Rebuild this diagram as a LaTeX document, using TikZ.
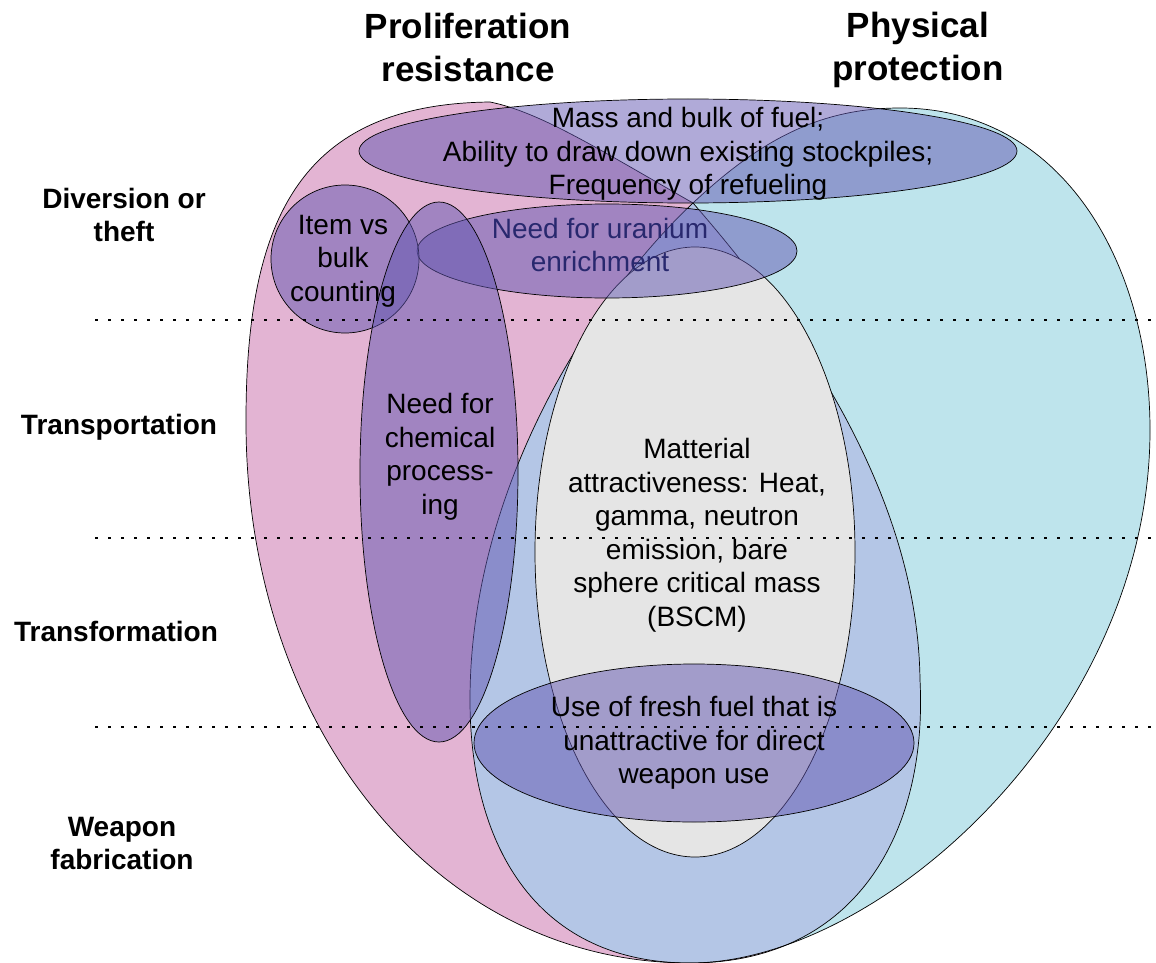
\documentclass[tikz,border=0pt]{standalone}
\usepackage{fontspec}
\setmainfont{Liberation Sans}
\usetikzlibrary{shapes.geometric}

\definecolor{prpink}{RGB}{227,180,211}
\definecolor{ppcyan}{RGB}{190,228,236}
\definecolor{bothblue}{RGB}{180,198,230}
\definecolor{attrgrey}{RGB}{229,229,229}
\definecolor{measpurple}{RGB}{97,85,177}
\definecolor{enrichtext}{RGB}{40,40,110}

\def\prlobe{(490,102) .. controls (300,104) and (246,220) .. (246,420)
  .. controls (245,720) and (430,963) .. (690,963)
  .. controls (850,963) and (928,840) .. (920,680)
  .. controls (918,520) and (830,360) .. (693,203)
  .. controls (600,150) and (540,112) .. cycle}
\def\pplobe{(693,203) .. controls (760,140) and (820,108) .. (900,108)
  .. controls (1060,108) and (1150,260) .. (1150,430)
  .. controls (1150,720) and (880,963) .. (690,963)
  .. controls (540,963) and (470,850) .. (470,700)
  .. controls (470,480) and (600,290) .. cycle}

\begin{document}
\begin{tikzpicture}[x=1pt,y=-1pt,
  measure/.style={ellipse,draw,line width=0.7pt,fill=measpurple,fill opacity=0.5,inner sep=0pt,outer sep=0pt},
  txt/.style={align=center,font=\fontsize{28}{33.5}\selectfont,inner sep=0pt},
  head/.style={align=center,font=\bfseries\fontsize{35}{43}\selectfont,inner sep=0pt},
  stage/.style={align=center,font=\bfseries\fontsize{28}{33}\selectfont,inner sep=0pt},
  stageline/.style={line width=2.8pt,dash pattern=on 2.8pt off 10.2pt}]
  \useasboundingbox (0,0) rectangle (1156,963);

  \fill[prpink] \prlobe;
  \fill[ppcyan] \pplobe;
  \begin{scope}
    \clip \prlobe;
    \fill[bothblue] \pplobe;
  \end{scope}
  \draw[line width=0.7pt] \prlobe;
  \draw[line width=0.7pt] \pplobe;

  \node[ellipse,draw,line width=0.7pt,fill=attrgrey,minimum width=320pt,minimum height=610pt,
    inner sep=0pt] (attr) at (695,552) {};

  \node[measure,minimum width=658pt,minimum height=104pt] (mass) at (688,151) {};
  \node[measure,minimum width=380pt,minimum height=94pt] (enrich) at (607,251) {};
  \node[measure,minimum width=148pt,minimum height=148pt] (item) at (345,259) {};
  \node[measure,minimum width=158pt,minimum height=540pt] (chem) at (439,472) {};
  \node[measure,minimum width=440pt,minimum height=158pt] (fresh) at (694,743) {};

  \foreach \y/\n in {320/one,538/two,727/three}{
    \coordinate (\n w) at (95,\y);
    \coordinate (\n e) at (1156,\y);
    \draw[stageline] (\n w) -- (\n e);
  }

  \node[head] (prhead) at (468,47) {Proliferation\\resistance};
  \node[head] (pphead) at (918,50) {Physical\\protection};

  \node[stage] (divert) at (124,215) {Diversion or\\theft};
  \node[stage] (transport) at (119,427) {Transportation};
  \node[stage] (transform) at (116,631) {Transformation};
  \node[stage] (weapon) at (122,843) {Weapon\\fabrication};

  \node[txt] (masstxt) at (688,154) {Mass and bulk of fuel;\\Ability to draw down existing stockpiles;\\Frequency of refueling};
  \node[txt] (itemtxt) at (343,261) {Item vs\\bulk\\counting};
  \node[txt,text=enrichtext] (enrichtxt) at (600,245) {Need for uranium\\enrichment};
  \node[txt] (chemtxt) at (440,457) {Need for\\chemical\\process-\\ing};
  \node[txt] (attrtxt) at (697,535) {Matterial\\attractiveness: Heat,\\gamma, neutron\\emission, bare\\sphere critical mass\\(BSCM)};
  \node[txt] (freshtxt) at (694,743) {Use of fresh fuel that is\\unattractive for direct\\weapon use};
\end{tikzpicture}
\end{document}
